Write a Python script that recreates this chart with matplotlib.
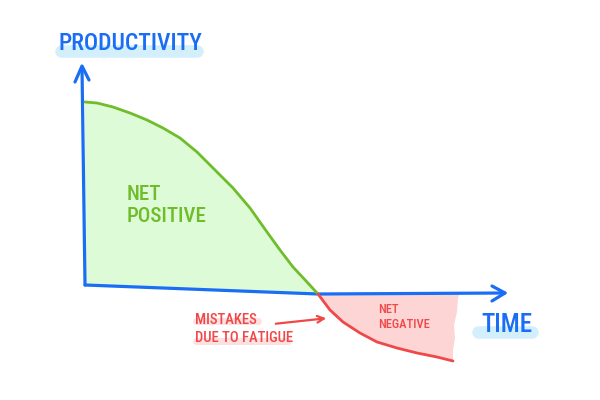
import numpy as np
import matplotlib
matplotlib.use("Agg")
import matplotlib.pyplot as plt

# time / productivity (origin = where the axes meet)
t_pos = [0, 12, 28, 45, 62, 78, 95, 112, 123, 132, 148, 165, 182, 195, 208, 222, 233]
p_pos = [185, 184, 180, 174, 167, 159, 149, 135, 124, 115, 99, 79, 55, 37, 20, 5, -7]

t_neg = [233, 245, 258, 275, 292, 312, 332, 352, 368]
p_neg = [-7, -23, -35, -46, -55, -61, -66, -70, -74]

# torn right edge of the negative area (bottom to top)
t_edge = [368, 368, 370, 369, 372, 373, 375]
p_edge = [-74, -63, -51, -38, -25, -11, -6]

# slightly wobbly time axis
t_axis = [0, 233, 420]
p_axis = [2, -7, -6]

BLUE = "#1a6ef5"
GREEN = "#6fbd2b"
GREEN_FILL = "#ddfbd6"
RED = "#f04848"
RED_FILL = "#fdd5d5"
HL_BLUE = "#d3effc"
HL_RED = "#fde0e0"

FONT = ["Roboto Condensed", "DejaVu Sans"]

fig = plt.figure(figsize=(6, 4), dpi=100)
ax = fig.add_axes([0, 0, 1, 1])
ax.set_xlim(-85, 515)
ax.set_ylim(-113, 287)
ax.axis("off")

# areas
ax.fill(t_pos + [0], p_pos + [2], color=GREEN_FILL, lw=0, zorder=1)
ax.fill(t_neg + t_edge[1:], p_neg + p_edge[1:], color=RED_FILL, lw=0, zorder=1)

# curves
ax.plot(t_pos, p_pos, color=GREEN, lw=2, solid_capstyle="round",
        solid_joinstyle="round", zorder=3)
ax.plot(t_neg, p_neg, color=RED, lw=2, solid_capstyle="round",
        solid_joinstyle="round", zorder=3)

# axes with arrows
ax.plot(t_axis, p_axis, color=BLUE, lw=2.3, solid_capstyle="round", zorder=2)
ax.plot([t_axis[-1] - 13, t_axis[-1], t_axis[-1] - 13],
        [p_axis[-1] + 7, p_axis[-1], p_axis[-1] - 8],
        color=BLUE, lw=2.3, solid_capstyle="round", solid_joinstyle="round", zorder=2)
ax.plot([0, -3], [2, 220], color=BLUE, lw=2.3, solid_capstyle="round", zorder=2)
ax.plot([-10, -3, 4], [205, 221, 207], color=BLUE, lw=2.3,
        solid_capstyle="round", solid_joinstyle="round", zorder=2)

# marker-style highlights behind labels
ax.plot([-24, 112], [236, 236], color=HL_BLUE, lw=9, solid_capstyle="round", zorder=0)
ax.plot([393, 447], [-45, -45], color=HL_BLUE, lw=9, solid_capstyle="round", zorder=0)
ax.plot([111, 173], [-34, -34], color=HL_RED, lw=5, solid_capstyle="round", zorder=0)
ax.plot([111, 203], [-54, -54], color=HL_RED, lw=5, solid_capstyle="round", zorder=0)

# labels
ax.text(45, 244, "PRODUCTIVITY", color=BLUE, fontsize=17, family=FONT,
        weight="medium", ha="center", va="center", zorder=4)
ax.text(422, -38, "TIME", color=BLUE, fontsize=18, family=FONT,
        weight="medium", ha="center", va="center", zorder=4)
ax.text(42, 82, "NET\nPOSITIVE", color=GREEN, fontsize=15, family=FONT,
        weight="medium", ha="left", va="center", linespacing=1.2, zorder=4)
ax.text(293, -30, "NET\nNEGATIVE", color=RED, fontsize=9, family=FONT,
        weight="medium", ha="left", va="center", linespacing=1.2, zorder=4)
ax.text(110, -42, "MISTAKES\nDUE TO FATIGUE", color=RED, fontsize=10.5, family=FONT,
        weight="medium", ha="left", va="center", linespacing=1.45, zorder=4)

ax.annotate("", xy=(244, -31), xytext=(188, -37),
            arrowprops=dict(arrowstyle="->", color=RED, lw=1.6,
                            mutation_scale=12), zorder=4)

fig.savefig("out.png", dpi=100)
